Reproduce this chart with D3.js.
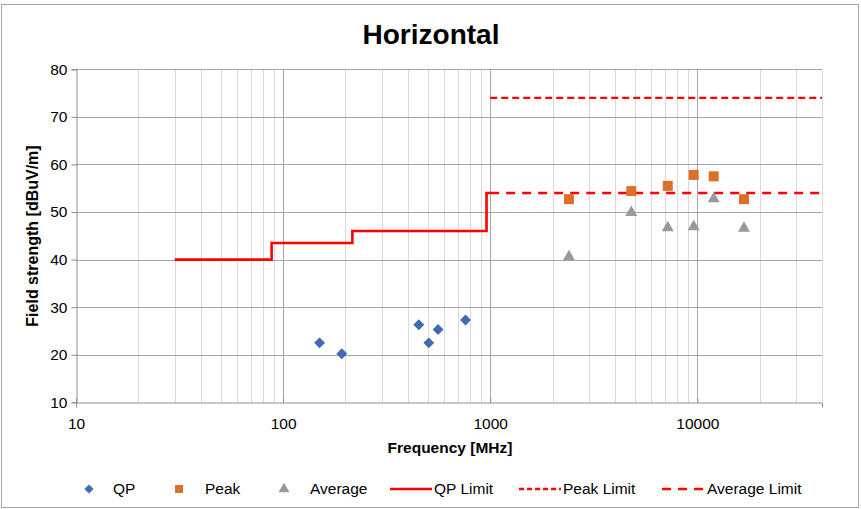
<!DOCTYPE html>
<html><head><meta charset="utf-8">
<script src="https://cdn.jsdelivr.net/npm/d3@7"></script>
<style>body{margin:0;background:#fff;font-family:"Liberation Sans",Arial,sans-serif;}</style>
</head><body>
<svg id="c" width="861" height="509"></svg>
<script>
const qpFreq = [150, 192, 452, 505, 560, 760];
const qpVal = [22.5, 20.2, 26.3, 22.5, 25.3, 27.3];
const peakFreq = [2400, 4800, 7200, 9600, 12000, 16800];
const peakVal = [52.7, 54.4, 55.5, 57.8, 57.5, 52.7];
const avgFreq = [2400, 4800, 7200, 9600, 12000, 16800];
const avgVal = [40.6, 49.9, 46.7, 46.9, 52.8, 46.6];
const qpLimitFreq = [30, 88, 88, 216, 216, 960, 960, 1000];
const qpLimitVal = [40, 40, 43.5, 43.5, 46, 46, 54, 54];
const peakLimitFreq = [1000, 40000];
const peakLimitVal = [74, 74];
const avgLimitFreq = [1000, 40000];
const avgLimitVal = [54, 54];
const xTicks = [10, 100, 1000, 10000];
const yTicks = [10, 20, 30, 40, 50, 60, 70, 80];
const legendLabels = ["QP", "Peak", "Average", "QP Limit", "Peak Limit", "Average Limit"];

const svg = d3.select("#c");
svg.append("rect").attr("x", 1.5).attr("y", 4.5).attr("width", 857).attr("height", 503)
  .attr("fill", "#fff").attr("stroke", "#a6a6a6").attr("stroke-width", 1);

const x = d3.scaleLog().domain([10, 40000]).range([76, 822]);
const y = d3.scaleLinear().domain([10, 80]).range([402.3, 69.3]);

const minor = [];
for (let d = 10; d <= 10000; d *= 10) for (let k = 2; k <= 9; k++) if (d * k <= 40000) minor.push(d * k);
const g = svg.append("g");
g.selectAll(".mn").data(minor).join("line")
  .attr("x1", d => Math.round(x(d)) + 0.5).attr("x2", d => Math.round(x(d)) + 0.5)
  .attr("y1", y(80)).attr("y2", y(10)).attr("stroke", "#d9d9d9").attr("stroke-width", 1);
g.selectAll(".mj").data(xTicks.slice(1)).join("line")
  .attr("x1", d => Math.round(x(d)) + 0.5).attr("x2", d => Math.round(x(d)) + 0.5)
  .attr("y1", y(80)).attr("y2", y(10)).attr("stroke", "#a6a6a6").attr("stroke-width", 1);
g.selectAll(".hz").data(yTicks.slice(1)).join("line")
  .attr("x1", x(10)).attr("x2", x(40000))
  .attr("y1", d => Math.round(y(d)) + 0.5).attr("y2", d => Math.round(y(d)) + 0.5)
  .attr("stroke", "#a6a6a6").attr("stroke-width", 1);

const xAxis = d3.axisBottom(x).tickValues(xTicks).tickFormat(d3.format("d")).tickSize(5);
const yAxis = d3.axisLeft(y).tickValues(yTicks).tickSize(5);
const gx = svg.append("g").attr("transform", `translate(0,${Math.round(y(10)) + 0.5})`).call(xAxis);
const gy = svg.append("g").attr("transform", `translate(${Math.round(x(10)) + 0.5},0)`).call(yAxis);
[gx, gy].forEach(a => {
  a.select(".domain").attr("stroke", "#8c8c8c");
  a.selectAll(".tick line").attr("stroke", "#8c8c8c");
  a.selectAll("text").attr("font-family", "Liberation Sans, Arial, sans-serif").attr("font-size", 15.5).attr("fill", "#000");
});
gx.selectAll(".tick line").attr("y2", 0).attr("y1", -4);
gx.selectAll("text").attr("dy", "1.2em");
gy.selectAll("text").attr("x", -9);

const lineGen = d3.line().x(d => x(d[0])).y(d => y(d[1]));
const zip = (a, b) => a.map((v, i) => [v, b[i]]);
svg.append("path").datum(zip(qpLimitFreq, qpLimitVal)).attr("d", lineGen)
  .attr("fill", "none").attr("stroke", "#ff0000").attr("stroke-width", 2.6);
svg.append("path").datum(zip(peakLimitFreq, peakLimitVal)).attr("d", lineGen)
  .attr("fill", "none").attr("stroke", "#ff0000").attr("stroke-width", 2.4).attr("stroke-dasharray", "7,4");
svg.append("path").datum(zip(avgLimitFreq, avgLimitVal)).attr("d", lineGen)
  .attr("fill", "none").attr("stroke", "#ff0000").attr("stroke-width", 2.6).attr("stroke-dasharray", "9,7");

const diamond = d3.symbol().type(d3.symbolDiamond2).size(76)();
const square = d3.symbol().type(d3.symbolSquare).size(100)();
const tri = d3.symbol().type(d3.symbolTriangle).size(62)();

svg.selectAll(".qp").data(zip(qpFreq, qpVal)).join("path")
  .attr("d", diamond).attr("transform", d => `translate(${x(d[0])},${y(d[1])})`).attr("fill", "#4169b4");
svg.selectAll(".pk").data(zip(peakFreq, peakVal)).join("path")
  .attr("d", square).attr("transform", d => `translate(${x(d[0])},${y(d[1])})`).attr("fill", "#dd6f2a");
svg.selectAll(".av").data(zip(avgFreq, avgVal)).join("path")
  .attr("d", tri).attr("transform", d => `translate(${x(d[0])},${y(d[1])})`).attr("fill", "#999999");

svg.append("text").attr("x", 431).attr("y", 44).attr("text-anchor", "middle")
  .attr("font-size", 28).attr("font-weight", "bold").text("Horizontal");
svg.append("text").attr("x", 450).attr("y", 453).attr("text-anchor", "middle")
  .attr("font-size", 15.5).attr("font-weight", "bold").text("Frequency [MHz]");
svg.append("text").attr("transform", "translate(38,236) rotate(-90)").attr("text-anchor", "middle")
  .attr("font-size", 16).attr("font-weight", "bold").text("Field strength  [dBuV/m]");

const ly = 489;
const leg = svg.append("g");
leg.append("path").attr("d", d3.symbol().type(d3.symbolDiamond2).size(54)()).attr("transform", `translate(89,${ly})`).attr("fill", "#4169b4");
leg.append("path").attr("d", d3.symbol().type(d3.symbolSquare).size(64)()).attr("transform", `translate(179,${ly})`).attr("fill", "#dd6f2a");
leg.append("path").attr("d", d3.symbol().type(d3.symbolTriangle).size(52)()).attr("transform", `translate(284,${ly})`).attr("fill", "#999999");
leg.append("line").attr("x1", 390).attr("x2", 432).attr("y1", ly).attr("y2", ly).attr("stroke", "#ff0000").attr("stroke-width", 2.4);
leg.append("line").attr("x1", 519).attr("x2", 561).attr("y1", ly).attr("y2", ly).attr("stroke", "#ff0000").attr("stroke-width", 2.4).attr("stroke-dasharray", "5,3");
leg.append("line").attr("x1", 662).attr("x2", 706).attr("y1", ly).attr("y2", ly).attr("stroke", "#ff0000").attr("stroke-width", 2.4).attr("stroke-dasharray", "9,7");
const lx = [113, 205, 310, 434, 563, 707];
leg.selectAll("text.l").data(legendLabels).join("text")
  .attr("x", (d, i) => lx[i]).attr("y", ly + 5).attr("font-size", 15.5).text(d => d);
</script>
</body></html>
